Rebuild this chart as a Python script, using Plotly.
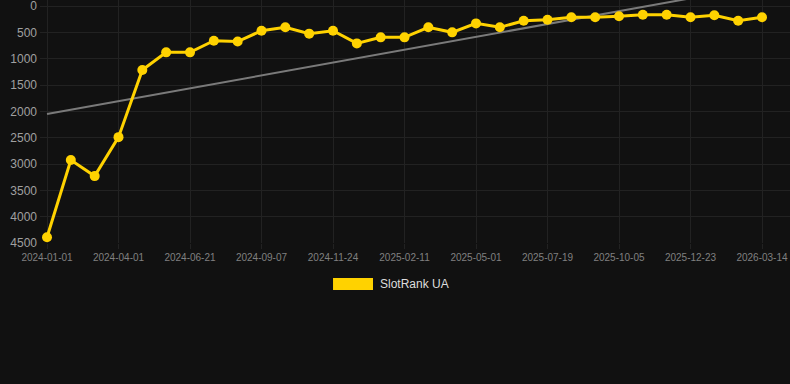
import plotly.graph_objects as go

dates = [
    "2024-01-01", "2024-01-31", "2024-03-01", "2024-04-01", "2024-04-28", "2024-05-25",
    "2024-06-21", "2024-07-17", "2024-08-12", "2024-09-07", "2024-10-03", "2024-10-29",
    "2024-11-24", "2024-12-20", "2025-01-16", "2025-02-11", "2025-03-09", "2025-04-05",
    "2025-05-01", "2025-05-27", "2025-06-23", "2025-07-19", "2025-08-14", "2025-09-09",
    "2025-10-05", "2025-10-31", "2025-11-27", "2025-12-23", "2026-01-19", "2026-02-15",
    "2026-03-14",
]
rank_ua = [
    4390, 2925, 3230, 2490, 1215, 880, 880, 660, 675, 470, 405, 525, 470, 710, 595, 595,
    405, 500, 330, 405, 280, 260, 215, 215, 195, 165, 165, 215, 177, 280, 215,
]
trend_values = [2050, -390]
tick_dates = dates[::3]
y_ticks = [0, 500, 1000, 1500, 2000, 2500, 3000, 3500, 4000, 4500]
series_name = "SlotRank UA"

GOLD = "#FFD200"
BG = "#111111"
GRID = "#222222"

fig = go.Figure()
fig.add_trace(go.Scatter(
    x=dates, y=rank_ua, mode="lines+markers", name=series_name,
    line=dict(color=GOLD, width=3),
    marker=dict(color=GOLD, size=10),
    showlegend=False,
))
fig.add_trace(go.Scatter(
    x=[dates[0], dates[-1]], y=trend_values, mode="lines",
    line=dict(color="#7a7a7a", width=2), showlegend=False, hoverinfo="skip",
))
# draw the trend line beneath the series
fig.data = (fig.data[1], fig.data[0])

fig.update_layout(
    width=790, height=384,
    margin=dict(l=40, r=0, t=0, b=141),
    paper_bgcolor=BG, plot_bgcolor=BG,
    font=dict(family="Liberation Sans, Arial, sans-serif"),
    xaxis=dict(
        type="category", categoryorder="array", categoryarray=dates,
        range=[-0.294, 31.175],
        tickvals=tick_dates, ticktext=tick_dates,
        showgrid=True, gridcolor=GRID, gridwidth=1,
        ticks="outside", ticklen=5, tickcolor=GRID,
        tickfont=dict(size=10, color="#808080"),
        zeroline=False, showline=False,
    ),
    yaxis=dict(
        range=[4500, -114], tickvals=y_ticks,
        showgrid=True, gridcolor=GRID, gridwidth=1,
        tickfont=dict(size=12, color="#a0a0a0"),
        zeroline=False, showline=False, ticks="", ticklabelstandoff=2,
        ticklabeloverflow="allow",
    ),
    shapes=[dict(
        type="rect", xref="paper", yref="paper",
        x0=0.3907, x1=0.444, y0=-0.1934, y1=-0.144,
        fillcolor=GOLD, line=dict(width=0),
    )],
    annotations=[dict(
        text=series_name, xref="paper", yref="paper",
        x=0.4507, y=-0.1687, xanchor="left", yanchor="middle",
        showarrow=False, font=dict(size=12, color="#dddddd"),
    )],
)

fig.write_html("out.html")
